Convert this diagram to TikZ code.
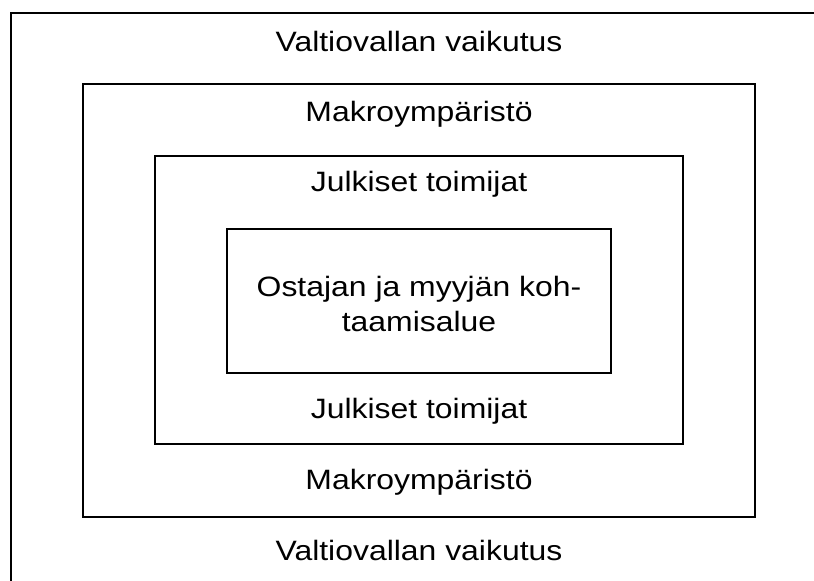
\documentclass[tikz,border=0pt]{standalone}
\usepackage{fontspec}
\setmainfont{Liberation Sans}[FakeStretch=1.14]
\usetikzlibrary{positioning, calc}

\begin{document}
\begin{tikzpicture}[
        x=1pt, y=1pt,
        frame/.style={
            rectangle,
            draw,
            line width=1.3pt,
            inner sep=0pt
        },
        caption/.style={
            anchor=base,
            inner sep=0pt,
            font=\fontsize{28}{35}\selectfont
        }
    ]
    \useasboundingbox (0,0) rectangle (814,581);
    \clip (0,0) rectangle (814,581);

    % Frames
    \node[frame, minimum width=816pt, minimum height=576pt] (valtio) at (419,280) {};
    \node[frame, minimum width=672pt, minimum height=433pt] (makro) at (419,280.5) {};
    \node[frame, minimum width=528pt, minimum height=288pt] (julkiset) at (419,281) {};
    \node[frame, minimum width=384pt, minimum height=144pt] (kohtaamis) at (419,280) {};

    % Labels
    \node[caption] (valtio top) at ([yshift=-39pt]valtio.north) {Valtiovallan vaikutus};
    \node[caption] (makro top) at ([yshift=-38pt]makro.north) {Makroympäristö};
    \node[caption] (julkiset top) at ([yshift=-36pt]julkiset.north) {Julkiset toimijat};
    \node[caption, align=center, anchor=center] (kohtaamis text) at ([yshift=-3pt]kohtaamis.center)
        {Ostajan ja myyjän koh-\\taamisalue};
    \node[caption] (julkiset bottom) at ([yshift=-45pt]kohtaamis.south) {Julkiset toimijat};
    \node[caption] (makro bottom) at ([yshift=-45pt]julkiset.south) {Makroympäristö};
    \node[caption] (valtio bottom) at ([yshift=-43pt]makro.south) {Valtiovallan vaikutus};

\end{tikzpicture}
\end{document}
